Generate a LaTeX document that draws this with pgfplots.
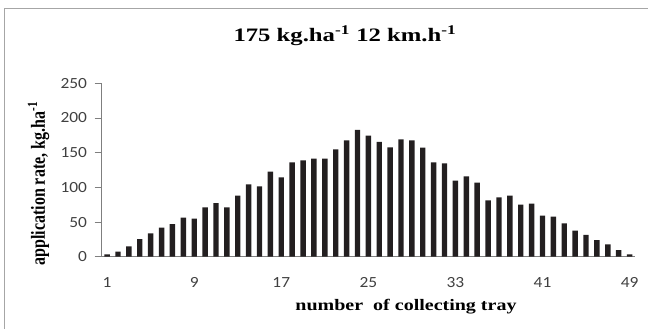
\documentclass[border=0pt]{standalone}
\usepackage{pgfplots}
\pgfplotsset{compat=1.18}
\usepackage{fontspec}
\setmainfont{Liberation Serif}
\newfontfamily\tickfont{Carlito}
\definecolor{barc}{HTML}{231F20}
\definecolor{axc}{HTML}{7F7F7F}
\definecolor{tickc}{HTML}{404040}
\definecolor{framec}{HTML}{A6A6A6}
\begin{document}
\begin{tikzpicture}[x=1bp,y=1bp]
\begin{axis}[
  at={(0,0)}, anchor=south west,
  scale only axis, width=533.3bp, height=173.4bp,
  xmin=0.5, xmax=49.5, ymin=0, ymax=250,
  axis lines=left, axis line style={-, axc, line width=0.8bp},
  ybar, bar width=5.4bp,
  xtick={1,9,...,49},
  minor xtick={0.5,4.5,...,48.5},
  ytick={0,50,...,250},
  tick align=outside,
  major tick length=7bp, minor tick length=7bp,
  xtick style={draw=none},
  minor x tick style={axc, line width=0.8bp},
  ytick style={axc, line width=0.8bp},
  /pgf/number format/assume math mode=true,
  ticklabel style={font=\tickfont\fontsize{15.5bp}{16bp}\selectfont, text=tickc, inner sep=0pt},
  xticklabel style={anchor=north, xscale=1.12, yshift=-13.5bp},
  yticklabel style={anchor=east, xscale=1.12, xshift=-6.7bp},
  clip=false,
]
\addplot[fill=barc, draw=none] coordinates {
(1,3.4) (2,7.2) (3,14.9) (4,25.5) (5,33.7) (6,41.8) (7,47.1) (8,56.3) (9,54.8) (10,71.2)
(11,77.4) (12,71.2) (13,88) (14,104.3) (15,101.4) (16,122.6) (17,114.4) (18,136) (19,138.9) (20,141.3)
(21,141.3) (22,154.8) (23,167.8) (24,182.7) (25,174.5) (26,165.4) (27,157.7) (28,169.2) (29,167.8) (30,157.2)
(31,136) (32,134.6) (33,109.6) (34,115.9) (35,106.7) (36,81.3) (37,85.6) (38,88) (39,75) (40,76.4)
(41,59.1) (42,57.7) (43,48.1) (44,37.5) (45,31.3) (46,24) (47,17.8) (48,9.6) (49,3.4)
};
\end{axis}
\draw[framec, line width=1.5bp] (-97.2,-80) -- (-97.2,248.2) -- (560,248.2);
\node[anchor=base, inner sep=0pt, xscale=1.3, font=\bfseries\fontsize{19bp}{22bp}\selectfont] at (243.3,215) {175 kg.ha\textsuperscript{-1} 12 km.h\textsuperscript{-1}};
\node[anchor=base, inner sep=0pt, xscale=1.25, font=\bfseries\fontsize{16bp}{19bp}\selectfont] at (304.3,-54) {number\ \ of collecting tray};
\node[anchor=base, inner sep=0pt, rotate=90, yscale=1.25, font=\bfseries\fontsize{16bp}{19bp}\selectfont] at (-56.7,73) {application rate, kg.ha\textsuperscript{-1}};
\pgfresetboundingbox
\path[use as bounding box] (-101.7,-71.3) rectangle (546.3,256.7);
\end{tikzpicture}
\end{document}
